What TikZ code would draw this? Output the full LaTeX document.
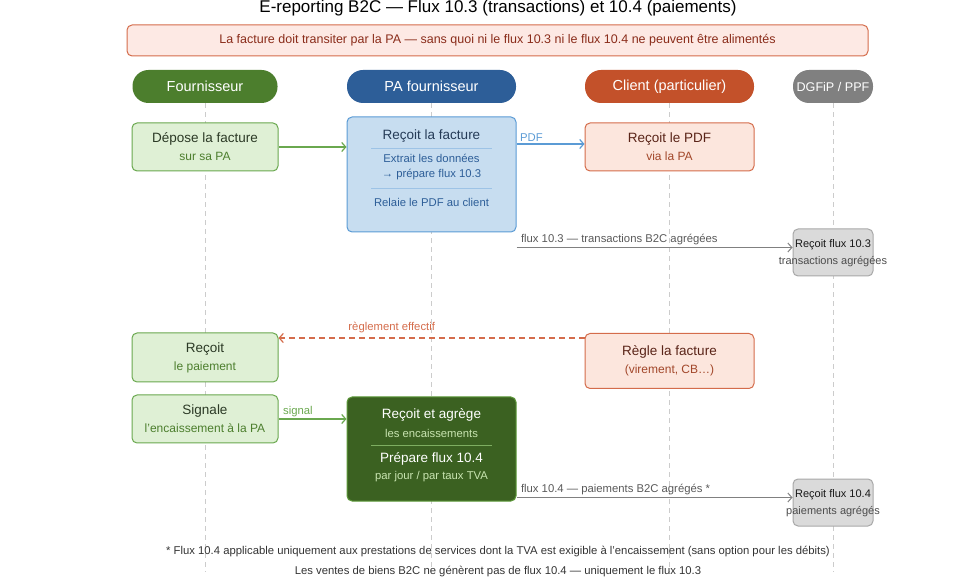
\documentclass[tikz,border=0pt]{standalone}
\usepackage{fontspec}
\setmainfont{Liberation Sans}
\usetikzlibrary{arrows.meta}
\definecolor{hgreen}{HTML}{4C7E2D}
\definecolor{hblue}{HTML}{2D5E98}
\definecolor{horange}{HTML}{C3512A}
\definecolor{hgray}{HTML}{808080}
\definecolor{fbg}{HTML}{DFF0D5}
\definecolor{fline}{HTML}{6AA84F}
\definecolor{ftext}{HTML}{2C3A26}
\definecolor{fsub}{HTML}{4C7E2D}
\definecolor{pbg}{HTML}{C7DDF0}
\definecolor{pline}{HTML}{5B9BD5}
\definecolor{ptext}{HTML}{263C58}
\definecolor{psub}{HTML}{2D5E98}
\definecolor{cbg}{HTML}{FCE6DD}
\definecolor{cline}{HTML}{D46C4B}
\definecolor{ctext}{HTML}{5A2418}
\definecolor{csub}{HTML}{A2472A}
\definecolor{gbg}{HTML}{3B6121}
\definecolor{gline}{HTML}{5E9A3A}
\definecolor{gsub}{HTML}{C8E4B0}
\definecolor{dbg}{HTML}{DADADA}
\definecolor{dline}{HTML}{A8A8A8}
\definecolor{banbg}{HTML}{FDE9E4}
\definecolor{bantext}{HTML}{8A2C1A}

\begin{document}
\begin{tikzpicture}[x=1pt, y=-1pt,
    head/.style={rounded corners=16pt, minimum height=33pt, inner sep=2pt, text=white, font=\fontsize{14.5}{17}\selectfont},
    box/.style={rounded corners=5pt, line width=1pt, align=center, font=\fontsize{13.5}{18}\selectfont},
    fbox/.style={box, draw=fline, fill=fbg, text=ftext, minimum width=146pt, minimum height=48pt},
    pbox/.style={box, draw=pline, fill=pbg, minimum width=169pt},
    cbox/.style={box, draw=cline, fill=cbg, text=ctext, minimum width=169pt},
    gbox/.style={box, draw=gline, fill=gbg, minimum width=169pt},
    dbox/.style={box, draw=dline, fill=dbg, minimum width=80pt, minimum height=47pt},
    small/.style={font=\fontsize{11.3}{15}\selectfont},
    lifeline/.style={draw=black!20, line width=0.8pt, dash pattern=on 5pt off 4pt},
    sepline/.style={line width=0.8pt},
    msg/.style={line width=1.2pt, -{Straight Barb[length=4pt, width=9pt]}},
    lbl/.style={font=\fontsize{11.3}{13}\selectfont, inner sep=2pt}
  ]
  \useasboundingbox (0,0) rectangle (978,585);

  \node[font=\fontsize{17}{19}\selectfont] (title) at (498,8) {E-reporting B2C — Flux 10.3 (transactions) et 10.4 (paiements)};
  \node[draw=cline, fill=banbg, rounded corners=5pt, line width=1pt, minimum width=741pt, minimum height=31pt, text=bantext, font=\fontsize{12.5}{15}\selectfont] (banner) at (497.5,40.5) {La facture doit transiter par la PA — sans quoi ni le flux 10.3 ni le flux 10.4 ne peuvent être alimentés};

  \node[head, fill=hgreen, minimum width=145pt] (h1) at (205,86.5) {Fournisseur};
  \node[head, fill=hblue, minimum width=169pt] (h2) at (431.5,86.5) {PA fournisseur};
  \node[head, fill=horange, minimum width=169pt] (h3) at (669.5,86.5) {Client (particulier)};
  \node[head, fill=hgray, minimum width=80pt, font=\fontsize{12.6}{14}\selectfont] (h4) at (833,86.5) {DGFiP / PPF};

  \coordinate (bot) at (0,572);
  \draw[lifeline] (h1.south) -- (h1.south |- bot);
  \draw[lifeline] (h2.south) -- (h2.south |- bot);
  \draw[lifeline] (h3.south) -- (h3.south |- bot);
  \draw[lifeline] (h4.south) -- (h4.south |- bot);

  \node[fbox] (f1) at (205,147) {Dépose la facture\\{\fontsize{12}{18}\selectfont\color{fsub}sur sa PA}};
  \node[pbox, minimum height=115pt] (pa1) at (431.5,174.5) {};
  \node[cbox, minimum height=48pt] (c1) at (669.5,147) {Reçoit le PDF\\{\fontsize{12}{18}\selectfont\color{csub}via la PA}};
  \node[dbox] (d1) at (833,252.5) {};
  \node[fbox, minimum height=49pt] (f2) at (205,357.5) {Reçoit\\{\fontsize{12}{18}\selectfont\color{fsub}le paiement}};
  \node[cbox, minimum height=55pt] (c2) at (669.5,361) {Règle la facture\\{\fontsize{12}{18}\selectfont\color{csub}(virement, CB…)}};
  \node[fbox] (f3) at (205,419) {Signale\\{\fontsize{12}{18}\selectfont\color{fsub}l'encaissement à la PA}};
  \node[gbox, minimum height=104pt] (pa2) at (431.5,449) {};
  \node[dbox] (d2) at (833,502.5) {};

  \node[text=ptext, font=\fontsize{13.5}{16}\selectfont] (p1t) at (431.5,136) {Reçoit la facture};
  \draw[sepline, draw=pline!60] (371,148) -- (492,148);
  \node[small, text=psub, align=center] (p1a) at (431.5,167.5) {Extrait les données\\→ prépare flux 10.3};
  \draw[sepline, draw=pline!60] (371,188) -- (492,188);
  \node[small, text=psub] (p1b) at (431.5,202) {Relaie le PDF au client};

  \node[text=white, font=\fontsize{13.5}{16}\selectfont] (p2t) at (431.5,415) {Reçoit et agrège};
  \node[small, text=gsub] (p2a) at (431.5,433) {les encaissements};
  \draw[sepline, draw=gline!80] (371,445) -- (492,445);
  \node[text=white, font=\fontsize{13.5}{16}\selectfont] (p2b) at (431.5,459) {Prépare flux 10.4};
  \node[small, text=gsub] (p2c) at (431.5,477) {par jour / par taux TVA};

  \node[font=\fontsize{11}{13}\selectfont, text=black!90] (d1t) at (833,245) {Reçoit flux 10.3};
  \node[font=\fontsize{11}{13}\selectfont, text=black!70] (d1s) at (833,262) {transactions agrégées};
  \node[font=\fontsize{11}{13}\selectfont, text=black!90] (d2t) at (833,495) {Reçoit flux 10.4};
  \node[font=\fontsize{11}{13}\selectfont, text=black!70] (d2s) at (833,512) {paiements agrégés};

  \draw[msg, draw=fline] (f1.east) -- (f1.east -| pa1.west);
  \coordinate (a1) at ([yshift=3pt]c1.west);
  \draw[msg, draw=pline] (pa1.east |- a1) -- (a1) node[lbl, pos=0, above right, xshift=1pt, text=pline] {PDF};
  \coordinate (a2) at ([yshift=5pt]d1.west);
  \draw[msg, line width=1pt, draw=black!50] (pa1.east |- a2) -- (a2) node[lbl, pos=0, above right, xshift=2pt, text=black!65] {flux 10.3 — transactions B2C agrégées};
  \coordinate (a3) at ([yshift=-5pt]c2.north west);
  \draw[msg, draw=cline, dash pattern=on 6pt off 4pt] (a3) -- (a3 -| f2.east) node[lbl, pos=0.63, above=3pt, text=cline] {règlement effectif};
  \draw[msg, draw=fline] (f3.east) -- (f3.east -| pa2.west) node[lbl, pos=0, above right, xshift=2pt, text=fline] {signal};
  \coordinate (a4) at ([yshift=5pt]d2.west);
  \draw[msg, line width=1pt, draw=black!50] (pa2.east |- a4) -- (a4) node[lbl, pos=0, above right, xshift=2pt, text=black!65] {flux 10.4 — paiements B2C agrégés *};

  \node[font=\fontsize{11.3}{13}\selectfont, text=black!80] (note1) at (498,552) {* Flux 10.4 applicable uniquement aux prestations de services dont la TVA est exigible à l'encaissement (sans option pour les débits)};
  \node[font=\fontsize{11.3}{13}\selectfont, text=black!80] (note2) at (498,572) {Les ventes de biens B2C ne génèrent pas de flux 10.4 — uniquement le flux 10.3};
\end{tikzpicture}
\end{document}
